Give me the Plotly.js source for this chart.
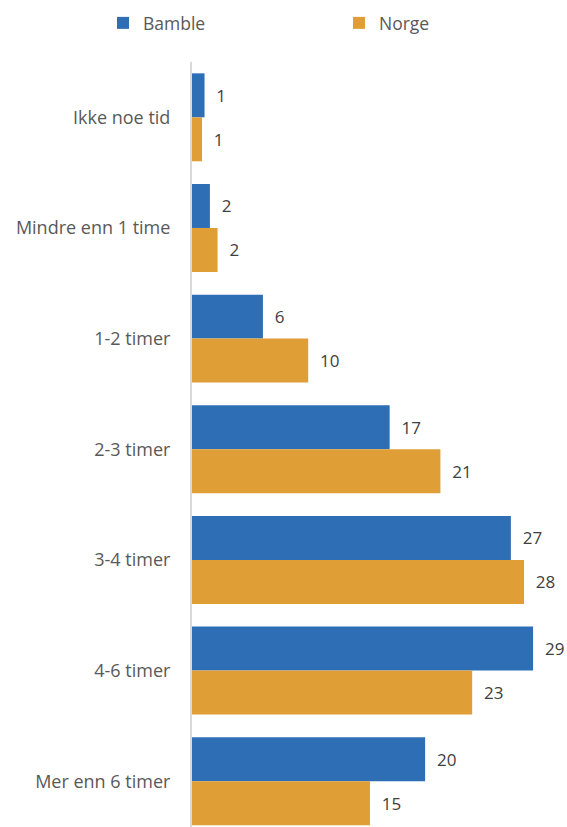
<!DOCTYPE html>
<html>
<head>
<meta charset="utf-8">
<script src="https://cdn.plot.ly/plotly-3.0.1.min.js"></script>
<style>html,body{margin:0;padding:0;background:#fff;}#chart{width:567px;height:827px;}</style>
</head>
<body>
<div id="chart"></div>
<script>
const categories = ["Ikke noe tid", "Mindre enn 1 time", "1-2 timer", "2-3 timer", "3-4 timer", "4-6 timer", "Mer enn 6 timer"];
const bamble = [1.05, 1.5, 5.94, 16.55, 26.7, 28.56, 19.52];
const norge = [0.84, 2.14, 9.73, 20.8, 27.8, 23.46, 14.9];
const seriesNames = ["Bamble", "Norge"];

const FONT = "'Open Sans', sans-serif";
const pad = "\u00a0\u00a0";

const traces = [
  {type: "bar", orientation: "h", name: seriesNames[0], y: categories, x: bamble, legend: "legend",
   marker: {color: "#2E6EB5"}, texttemplate: pad + "%{x:.0f}", textposition: "outside",
   cliponaxis: false, textfont: {color: "#404040", size: 17, family: FONT}, hoverinfo: "skip"},
  {type: "bar", orientation: "h", name: seriesNames[1], y: categories, x: norge, legend: "legend2",
   marker: {color: "#DF9E36"}, texttemplate: pad + "%{x:.0f}", textposition: "outside",
   cliponaxis: false, textfont: {color: "#404040", size: 17, family: FONT}, hoverinfo: "skip"}
];

const legendBase = {orientation: "h", xref: "container", yref: "container", xanchor: "left",
  y: 1 - 23/827, yanchor: "middle", itemwidth: 30, bgcolor: "rgba(0,0,0,0)",
  font: {family: FONT, size: 17.5, color: "#595959"}};

const layout = {
  width: 567, height: 827,
  margin: {l: 192, r: 0, t: 62, b: 0},
  paper_bgcolor: "#fff", plot_bgcolor: "#fff",
  font: {family: FONT, size: 18, color: "#595959"},
  barmode: "group", bargap: 0.205, bargroupgap: 0,
  showlegend: true,
  legend: Object.assign({}, legendBase, {x: 103/567}),
  legend2: Object.assign({}, legendBase, {x: 339/567}),
  xaxis: {range: [0, 31.4], showgrid: false, zeroline: false, showticklabels: false, ticks: "", showline: false, fixedrange: true},
  yaxis: {type: "category", range: [6.414, -0.5], showgrid: false, zeroline: false, ticks: "",
          showline: true, linecolor: "#D9D9D9", linewidth: 2, ticklabelstandoff: 16,
          tickfont: {family: FONT, size: 18, color: "#595959"}}
};

Plotly.newPlot("chart", traces, layout, {displayModeBar: false, staticPlot: true});
</script>
</body>
</html>
